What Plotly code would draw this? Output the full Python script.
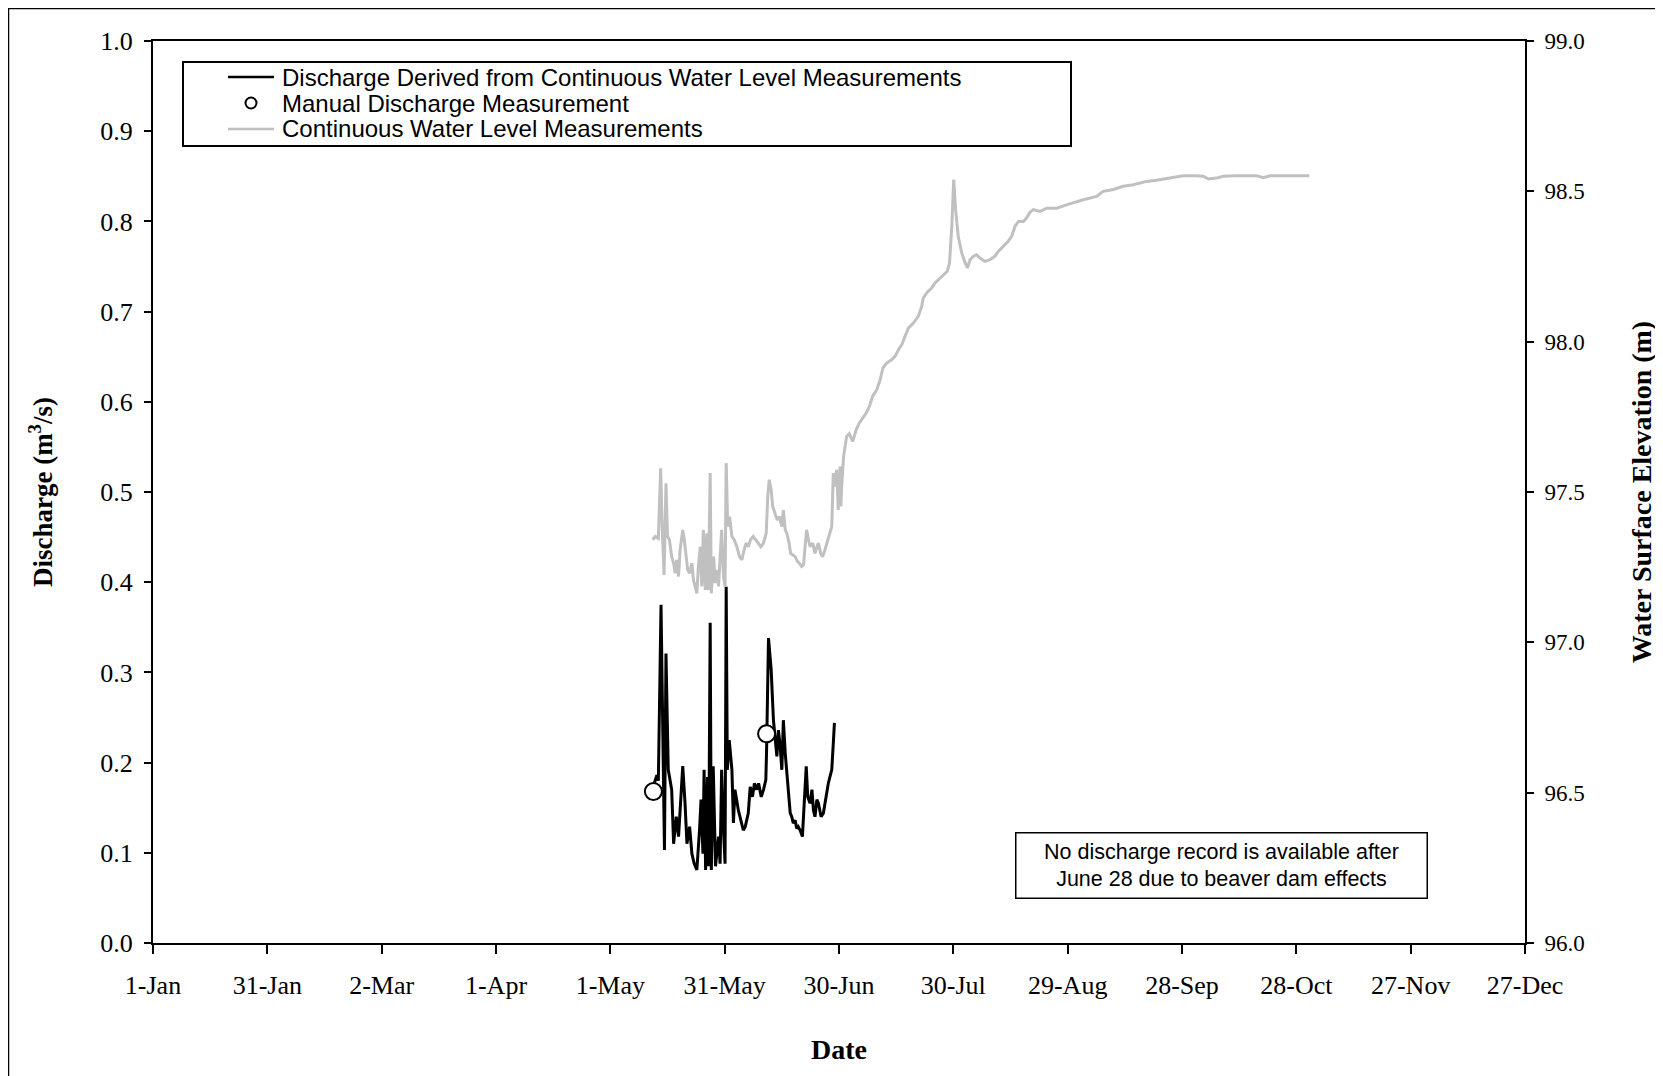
import pandas as pd
import plotly.graph_objects as go

# Day offsets from 1-Jan (non-leap year)
q_day = [131.6, 132.2, 132.6, 133.3, 134.2, 134.6, 135.2, 136.1, 136.6, 137.3,
         137.9, 138.5, 139.0, 139.6, 140.1, 140.8, 141.4, 142.0, 142.7, 143.4,
         143.8, 144.3, 144.6, 145.0, 145.5, 145.8, 146.2, 146.5, 147.0, 147.6,
         148.4, 148.8, 149.2, 149.7, 150.1, 150.4, 150.7, 151.2, 151.9, 152.3,
         152.7, 153.6, 154.5, 154.9, 155.4, 156.2, 156.7, 157.3, 157.8, 158.4,
         158.9, 159.6, 160.2, 160.8, 161.0, 161.5, 162.2, 162.8, 163.2, 163.7,
         164.1, 164.5, 165.0, 165.4, 165.9, 166.3, 166.7, 167.2, 167.6, 168.0,
         168.5, 168.9, 169.3, 169.8, 170.4, 170.9, 171.4, 171.8, 172.4, 172.9,
         173.3, 173.7, 174.2, 174.6, 175.3, 175.9, 176.3, 176.8, 177.2, 177.6,
         178.1, 178.5, 178.8]
q_val = [0.178, 0.186, 0.180, 0.375, 0.103, 0.321, 0.192, 0.170, 0.110, 0.140,
         0.118, 0.155, 0.196, 0.155, 0.110, 0.129, 0.099, 0.088, 0.081, 0.125,
         0.159, 0.099, 0.192, 0.081, 0.184, 0.085, 0.355, 0.081, 0.196, 0.085,
         0.118, 0.088, 0.192, 0.125, 0.088, 0.395, 0.192, 0.225, 0.192, 0.133,
         0.170, 0.147, 0.133, 0.125, 0.129, 0.144, 0.173, 0.162, 0.177, 0.170,
         0.177, 0.162, 0.170, 0.181, 0.214, 0.338, 0.303, 0.247, 0.229, 0.207,
         0.236, 0.221, 0.192, 0.247, 0.210, 0.192, 0.170, 0.144, 0.140, 0.133,
         0.136, 0.127, 0.129, 0.125, 0.118, 0.151, 0.196, 0.162, 0.155, 0.170,
         0.147, 0.140, 0.159, 0.155, 0.140, 0.144, 0.155, 0.166, 0.177, 0.184,
         0.192, 0.221, 0.244]

manual_day = [131.3, 161.0]
manual_val = [0.168, 0.232]

wl_day = [131.1, 131.8, 132.6, 133.2, 133.6, 134.1, 134.6, 135.0, 135.5, 136.1,
          136.6, 137.0, 137.4, 137.9, 138.3, 139.0, 139.4, 139.9, 140.3, 140.8,
          141.4, 141.8, 142.2, 142.7, 143.1, 143.6, 144.0, 144.4, 144.9, 145.3,
          145.7, 146.2, 146.5, 147.1, 147.5, 147.9, 148.4, 148.8, 149.2, 149.7,
          150.1, 150.4, 150.8, 151.3, 151.9, 152.5, 153.2, 153.9, 154.5, 155.1,
          155.6, 156.2, 156.8, 157.5, 158.2, 158.9, 159.5, 160.2, 160.9, 161.3,
          161.7, 162.2, 162.6, 163.2, 163.8, 164.4, 165.0, 165.4, 165.9, 166.3,
          166.9, 167.3, 167.9, 168.5, 169.1, 169.6, 170.2, 170.7, 171.1, 171.5,
          172.0, 172.4, 173.1, 173.7, 174.2, 174.6, 175.2, 175.7, 176.3, 177.0,
          177.5, 178.1, 178.5, 179.0, 179.4, 179.8, 180.3, 180.5, 180.7, 181.2,
          182.0, 182.7, 183.6, 184.5, 185.3, 186.2, 187.1, 188.0, 188.8, 189.9,
          190.8, 191.5, 192.5, 193.8, 194.7, 195.6, 196.5, 197.3, 198.2, 199.5,
          200.8, 201.7, 202.1, 203.0, 204.3, 205.2, 206.1, 207.4, 208.4, 209.0,
          209.6, 210.1, 210.6, 211.3, 212.2, 213.1, 213.7, 214.4, 215.3, 216.1,
          217.0, 218.3, 219.6, 220.9, 221.8, 223.1, 224.4, 225.3, 226.2, 227.1,
          228.4, 229.2, 230.1, 231.0, 232.7, 234.5, 237.1, 239.7, 241.5, 244.1,
          247.6, 249.3, 252.0, 254.6, 257.2, 260.7, 263.3, 266.8, 270.3, 273.8,
          275.6, 276.9, 279.1, 280.8, 284.3, 289.6, 291.3, 293.1, 298.3, 303.4]
wl_val = [97.341, 97.352, 97.346, 97.579, 97.385, 97.224, 97.529, 97.352, 97.341, 97.285,
          97.263, 97.230, 97.274, 97.219, 97.307, 97.374, 97.341, 97.285, 97.241, 97.230,
          97.263, 97.208, 97.186, 97.163, 97.252, 97.318, 97.186, 97.374, 97.174, 97.363,
          97.174, 97.563, 97.163, 97.285, 97.197, 97.241, 97.186, 97.263, 97.374, 97.219,
          97.186, 97.596, 97.385, 97.418, 97.352, 97.341, 97.318, 97.285, 97.274, 97.307,
          97.330, 97.318, 97.341, 97.352, 97.341, 97.330, 97.318, 97.330, 97.363, 97.485,
          97.541, 97.507, 97.452, 97.429, 97.407, 97.418, 97.385, 97.440, 97.374, 97.363,
          97.330, 97.296, 97.291, 97.285, 97.269, 97.263, 97.252, 97.258, 97.318, 97.374,
          97.341, 97.318, 97.330, 97.296, 97.318, 97.330, 97.296, 97.285, 97.307, 97.341,
          97.363, 97.385, 97.563, 97.518, 97.574, 97.440, 97.585, 97.452, 97.518, 97.618,
          97.685, 97.694, 97.668, 97.707, 97.729, 97.745, 97.762, 97.785, 97.818, 97.840,
          97.873, 97.912, 97.929, 97.940, 97.951, 97.973, 97.990, 98.017, 98.045, 98.062,
          98.084, 98.117, 98.145, 98.162, 98.178, 98.195, 98.206, 98.223, 98.234, 98.262,
          98.384, 98.539, 98.439, 98.350, 98.295, 98.262, 98.245, 98.273, 98.284, 98.289,
          98.278, 98.267, 98.273, 98.284, 98.300, 98.317, 98.334, 98.350, 98.384, 98.400,
          98.400, 98.411, 98.430, 98.439, 98.433, 98.444, 98.444, 98.455, 98.463, 98.472,
          98.483, 98.500, 98.506, 98.517, 98.522, 98.533, 98.537, 98.544, 98.552, 98.552,
          98.550, 98.541, 98.544, 98.550, 98.552, 98.552, 98.545, 98.552, 98.552, 98.552]

BASE = pd.Timestamp("2007-01-01")
SERIF = "Liberation Serif, Times New Roman, serif"
SANS = "Liberation Sans, Arial, sans-serif"
GREY = "#C0C0C0"

# Page is 1663x1076 but the html body keeps its 8px margin, so the figure
# itself is 8px smaller and everything below is given in page pixels.
PAGE_W, PAGE_H, OFF = 1663, 1076, 8
W, H = PAGE_W - OFF, PAGE_H - OFF
PL, PR, PT, PB = 153, 1525, 41, 943  # plot-area edges, page pixels


def to_dates(days):
    return BASE + pd.to_timedelta(days, unit="D")


def px(x):
    return (x - PL) / (PR - PL)


def py(y):
    return (PB - y) / (PB - PT)


fig = go.Figure()
fig.add_trace(go.Scatter(
    x=to_dates(q_day), y=q_val, mode="lines",
    line=dict(color="black", width=3),
    name="Discharge Derived from Continuous Water Level Measurements",
))
fig.add_trace(go.Scatter(
    x=to_dates(wl_day), y=wl_val, mode="lines", yaxis="y2",
    line=dict(color=GREY, width=3),
    name="Continuous Water Level Measurements",
))
fig.add_trace(go.Scatter(
    x=to_dates(manual_day), y=manual_val, mode="markers",
    marker=dict(symbol="circle", size=17, color="white",
                line=dict(color="black", width=2)),
    name="Manual Discharge Measurement",
))

axis_common = dict(
    showline=True, linecolor="black", linewidth=2,
    ticks="outside", tickcolor="black", tickwidth=1.5,
    showgrid=False, zeroline=False,
)

fig.update_layout(
    width=W, height=H,
    margin=dict(l=PL - OFF, r=PAGE_W - PR, t=PT - OFF, b=PAGE_H - PB),
    paper_bgcolor="white", plot_bgcolor="white",
    showlegend=False,
    font=dict(family=SERIF, color="black", size=26),
    xaxis=dict(
        type="date",
        range=[BASE, BASE + pd.Timedelta(days=360)],
        tick0=BASE, dtick=30 * 86400000, tickformat="%-d-%b",
        ticklen=9, mirror=True, ticklabelstandoff=9,
        tickfont=dict(size=26),
        title=dict(text="<b>Date</b>", font=dict(size=28), standoff=40),
        **axis_common,
    ),
    yaxis=dict(
        range=[0, 1], dtick=0.1, tickformat=".1f", ticklen=7,
        ticklabelstandoff=6, tickfont=dict(size=26),
        title=dict(text="<b>Discharge (m<sup>3</sup>/s)</b>", font=dict(size=27), standoff=40),
        **axis_common,
    ),
    yaxis2=dict(
        range=[96, 99], dtick=0.5, tickformat=".1f", ticklen=7,
        overlaying="y", side="right", ticklabelstandoff=6,
        tickfont=dict(size=23),
        title=dict(text="<b>Water Surface Elevation (m)</b>", font=dict(size=28), standoff=48),
        **axis_common,
    ),
)

shapes = [
    # outer frame of the graphic
    dict(type="rect", xref="paper", yref="paper",
         x0=px(8.5), x1=px(PAGE_W + 20), y0=py(8.5), y1=py(PAGE_H + 20),
         line=dict(color="black", width=1.5)),
    # legend frame and keys
    dict(type="rect", xref="paper", yref="paper",
         x0=px(183), x1=px(1071), y0=py(62), y1=py(146),
         line=dict(color="black", width=2), fillcolor="white", layer="above"),
    dict(type="line", xref="paper", yref="paper",
         x0=px(228), x1=px(274), y0=py(77), y1=py(77),
         line=dict(color="black", width=2.5)),
    dict(type="circle", xref="paper", yref="paper",
         x0=px(245.5), x1=px(256.5), y0=py(97.5), y1=py(108.5),
         line=dict(color="black", width=2), fillcolor="white"),
    dict(type="line", xref="paper", yref="paper",
         x0=px(228), x1=px(274), y0=py(129), y1=py(129),
         line=dict(color=GREY, width=2.5)),
]

legend_rows = [
    (77, "Discharge Derived from Continuous Water Level Measurements"),
    (103, "Manual Discharge Measurement"),
    (129, "Continuous Water Level Measurements"),
]
annotations = [
    dict(xref="paper", yref="paper", x=px(280), y=py(yy), text=t,
         xanchor="left", yanchor="middle", showarrow=False,
         font=dict(family=SANS, size=24, color="black"))
    for yy, t in legend_rows
]
annotations.append(dict(
    xref="paper", yref="paper", x=px(1221), y=py(865.5),
    text="No discharge record is available after<br>June 28 due to beaver dam effects",
    showarrow=False, xanchor="center", yanchor="middle",
    width=408, height=62, align="center", valign="middle",
    bordercolor="black", borderwidth=1.5, bgcolor="white",
    font=dict(family=SANS, size=21.5, color="black"),
))

fig.update_layout(shapes=shapes, annotations=annotations)

fig.write_html("out.html")
